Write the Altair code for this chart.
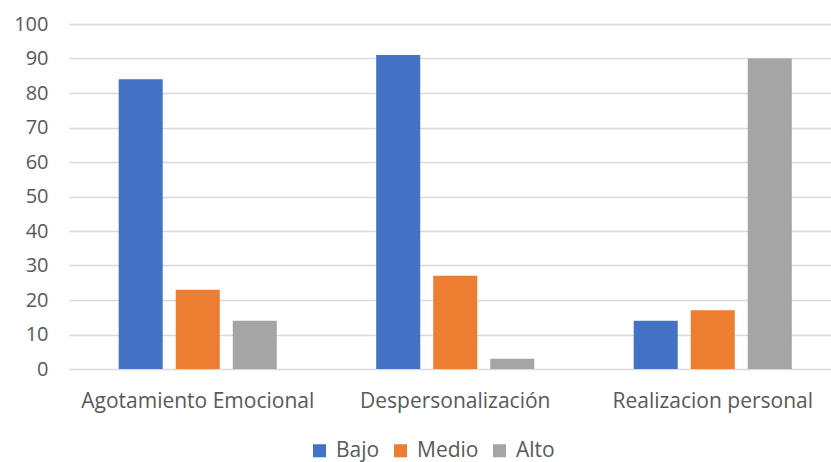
import altair as alt
import pandas as pd

categories = ["Agotamiento Emocional", "Despersonalización", "Realizacion personal"]
levels = ["Bajo", "Medio", "Alto"]
bajo = [84, 91, 14]
medio = [23, 27, 17]
alto = [14, 3, 90]
colors = ["#4472C4", "#ED7D31", "#A5A5A5"]

rows = []
for i, cat in enumerate(categories):
    for lvl, vals in zip(levels, [bajo, medio, alto]):
        rows.append({"categoria": cat, "nivel": lvl, "valor": vals[i]})
df = pd.DataFrame(rows)

font = "Open Sans"
text_color = "#595959"

chart = (
    alt.Chart(df)
    .mark_bar()
    .encode(
        x=alt.X(
            "categoria:N",
            sort=categories,
            title=None,
            scale=alt.Scale(range=[0, 772.5], paddingInner=0.386, paddingOuter=0.193),
            axis=alt.Axis(
                labelAngle=0,
                ticks=False,
                domain=False,
                labelPadding=21,
                labelFontSize=21,
                labelColor=text_color,
                labelFont=font,
                labelLimit=0,
                grid=False,
            ),
        ),
        xOffset=alt.XOffset(
            "nivel:N",
            sort=levels,
            scale=alt.Scale(paddingInner=0.228, paddingOuter=0),
        ),
        y=alt.Y(
            "valor:Q",
            title=None,
            scale=alt.Scale(domain=[0, 100], nice=False),
            axis=alt.Axis(
                values=list(range(0, 101, 10)),
                ticks=False,
                domain=False,
                labelPadding=21,
                labelFontSize=20,
                labelColor=text_color,
                labelFont=font,
                gridColor="#D9D9D9",
                gridWidth=1.3,
            ),
        ),
        color=alt.Color(
            "nivel:N",
            sort=levels,
            scale=alt.Scale(domain=levels, range=colors),
            legend=alt.Legend(
                title=None,
                orient="none",
                direction="horizontal",
                legendX=240,
                legendY=416,
                symbolType="square",
                symbolSize=170,
                symbolStrokeWidth=0,
                labelFontSize=21,
                labelColor=text_color,
                labelFont=font,
                labelLimit=0,
                columnPadding=10,
                labelOffset=6,
            ),
        ),
    )
    .properties(
        width=762,
        height=345,
        autosize=alt.AutoSizeParams(type="none"),
        padding={"left": 69, "top": 24, "right": 0, "bottom": 93},
        background="white",
    )
    .configure_view(stroke=None)
)

chart.save("out.html", embed_options={"renderer": "svg", "actions": False})
